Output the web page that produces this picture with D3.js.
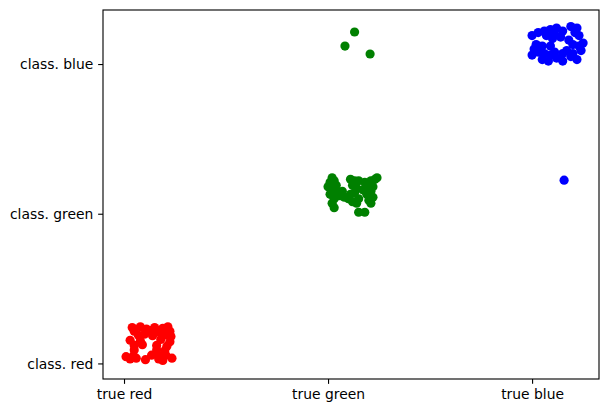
<!DOCTYPE html>
<html>
<head>
<meta charset="utf-8">
<script src="https://cdn.jsdelivr.net/npm/d3@7"></script>
<style>
  body { margin: 0; background: #fff; }
  svg text { font-family: "DejaVu Sans", sans-serif; }
</style>
</head>
<body>
<div id="chart"></div>
<script>
// categories
const xLabels = ["true red", "true green", "true blue"];
const yLabels = ["class. red", "class. green", "class. blue"];

// true red samples
const redX = [0.04, 0.08, 0.11, 0.15, 0.19, 0.215, 0.05, 0.13, 0.17, 0.225, 0.07, 0.10, 0.14, 0.20, 0.23,
  0.03, 0.08, 0.18, 0.225, 0.05, 0.09, 0.16, 0.21, 0.05, 0.16, 0.20, 0.01, 0.045, 0.135, 0.17, 0.205,
  0.03, 0.06, 0.105, 0.17, 0.235, 0.19];
const redY = [0.24, 0.245, 0.23, 0.24, 0.235, 0.245, 0.215, 0.22, 0.21, 0.215, 0.19, 0.195, 0.185, 0.19, 0.18,
  0.155, 0.15, 0.16, 0.145, 0.12, 0.125, 0.12, 0.115, 0.09, 0.09, 0.085, 0.045, 0.05, 0.055, 0.05, 0.055,
  0.03, 0.035, 0.025, 0.03, 0.035, 0.02];

// true green samples
const greenX = [1.02, 1.01, 1.03, 1.00, 1.02, 1.04, 1.01, 1.03, 1.02, 1.03, 1.05, 1.04,
  1.06, 1.08, 1.10, 1.12, 1.07, 1.11,
  1.11, 1.13, 1.15, 1.12, 1.14, 1.13, 1.15, 1.14,
  1.15, 1.18,
  1.21, 1.23, 1.24, 1.20, 1.22, 1.21, 1.19, 1.22, 1.20, 1.21, 1.18, 1.17,
  1.083, 1.13, 1.206];
const greenY = [1.24, 1.21, 1.22, 1.18, 1.16, 1.19, 1.13, 1.10, 1.07, 1.04, 1.12, 1.15,
  1.12, 1.11, 1.10, 1.08, 1.15, 1.13,
  1.23, 1.22, 1.22, 1.19, 1.17, 1.14, 1.10, 1.07,
  1.01, 1.01,
  1.22, 1.23, 1.24, 1.19, 1.18, 1.15, 1.13, 1.11, 1.09, 1.07, 1.21, 1.16,
  2.12, 2.214, 2.067];

// true blue samples
const blueX = [2.00, 2.03, 2.06, 2.09, 2.12, 2.15, 2.19, 2.22, 2.21, 2.23, 2.07, 2.11, 2.14,
  2.02, 2.01, 2.05, 2.09, 2.10, 2.18, 2.20, 2.23, 2.25,
  2.00, 2.03, 2.06, 2.09, 2.11, 2.12, 2.15, 2.17, 2.19, 2.22, 2.05, 2.08, 2.15, 2.20, 2.24,
  2.157];
const blueY = [2.19, 2.21, 2.22, 2.23, 2.24, 2.22, 2.25, 2.24, 2.21, 2.19, 2.19, 2.20, 2.18,
  2.13, 2.10, 2.12, 2.12, 2.17, 2.16, 2.13, 2.12, 2.14,
  2.06, 2.08, 2.07, 2.06, 2.08, 2.04, 2.07, 2.09, 2.05, 2.03, 2.03, 2.02, 2.02, 2.07, 2.09,
  1.224];

const series = [
  { xs: redX, ys: redY, color: "red" },
  { xs: greenX, ys: greenY, color: "green" },
  { xs: blueX, ys: blueY, color: "blue" }
];

const W = 608, H = 413;
const m = { left: 103, right: 599, top: 10, bottom: 379 };
const pt = 100 / 72;

const svg = d3.select("#chart").append("svg")
  .attr("width", W)
  .attr("height", H);

const x = d3.scaleLinear().domain([-0.103, 2.328]).range([m.left, m.right]);
const y = d3.scaleLinear().domain([-0.104, 2.361]).range([m.bottom, m.top]);

series.forEach(s => {
  svg.append("g")
    .selectAll("circle")
    .data(s.xs.map((v, i) => [v, s.ys[i]]))
    .enter().append("circle")
    .attr("cx", d => x(d[0]))
    .attr("cy", d => y(d[1]))
    .attr("r", 4.6)
    .attr("fill", s.color);
});

// frame
svg.append("rect")
  .attr("x", m.left)
  .attr("y", m.top)
  .attr("width", m.right - m.left)
  .attr("height", m.bottom - m.top)
  .attr("fill", "none")
  .attr("stroke", "#000")
  .attr("stroke-width", 0.8 * pt);

const xAxis = svg.append("g")
  .attr("transform", `translate(0,${m.bottom})`)
  .call(d3.axisBottom(x).tickValues([0, 1, 2]).tickFormat(i => xLabels[i])
    .tickSize(3.5 * pt).tickPadding(3.5 * pt));

const yAxis = svg.append("g")
  .attr("transform", `translate(${m.left},0)`)
  .call(d3.axisLeft(y).tickValues([0, 1, 2]).tickFormat(i => yLabels[i])
    .tickSize(3.5 * pt).tickPadding(3.5 * pt));

[xAxis, yAxis].forEach(g => {
  g.select(".domain").remove();
  g.selectAll(".tick line").attr("stroke", "#000").attr("stroke-width", 0.8 * pt);
  g.selectAll(".tick text")
    .attr("fill", "#000")
    .style("font-size", (10 * pt) + "px")
    .style("font-family", "'DejaVu Sans', sans-serif");
});
yAxis.selectAll(".tick text").attr("dy", "0.34em");
xAxis.selectAll(".tick text").attr("dy", "0.76em");
</script>
</body>
</html>
